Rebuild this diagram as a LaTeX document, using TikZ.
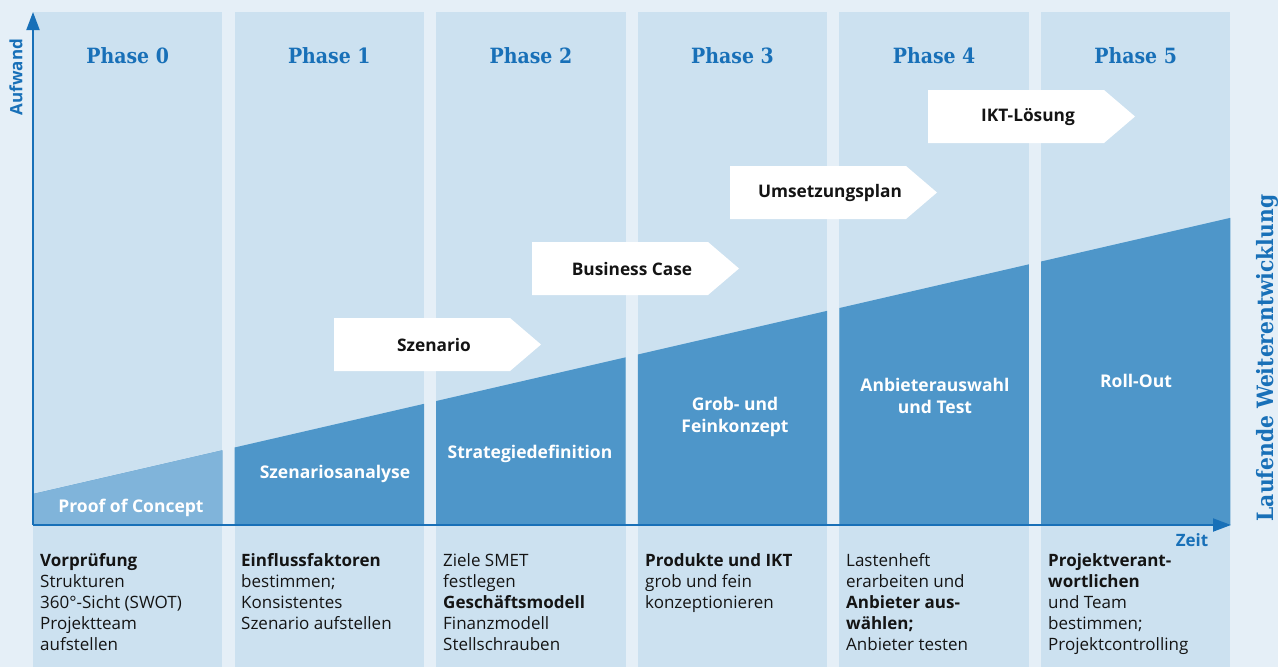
\documentclass[tikz,border=0pt]{standalone}
\usepackage{fontspec}
\setmainfont{Open Sans}
\newfontfamily\headfont{DejaVu Serif Condensed}
\usetikzlibrary{arrows.meta}

\definecolor{bgcol}{RGB}{229,239,247}
\definecolor{colfill}{RGB}{204,225,240}
\definecolor{darkfill}{RGB}{78,150,201}
\definecolor{lightfill}{RGB}{128,180,218}
\definecolor{axisblue}{RGB}{24,112,184}
\definecolor{ink}{RGB}{20,20,20}

\tikzset{
  phasehead/.style={font=\headfont\bfseries\fontsize{21}{24}\selectfont, text=axisblue, inner sep=0pt},
  desc/.style={font=\fontsize{17}{21}\selectfont, text=ink, align=left, anchor=north west, inner sep=0pt},
  stagelabel/.style={font=\bfseries\fontsize{17.5}{22}\selectfont, text=white, align=center, inner sep=0pt},
  steplabel/.style={font=\bfseries\fontsize{17.3}{22}\selectfont, text=ink, inner sep=0pt},
  axislabel/.style={font=\bfseries\fontsize{17}{20}\selectfont, text=axisblue, inner sep=0pt},
  axisline/.style={draw=axisblue, line width=2pt, -{Triangle[length=18pt,width=13pt]}},
}

\begin{document}
\begin{tikzpicture}[x=1pt, y=-1pt]
\useasboundingbox (0,0) rectangle (1278,667);
\fill[bgcol] (0,0) rectangle (1278,667);

% phase columns
\foreach \i in {0,...,5}{
  \fill[colfill] ({33+201.6*\i},12) rectangle ({33+201.6*\i+189.4},667);
}

% rising effort area, only inside the columns
\begin{scope}
  \clip (33,12) rectangle (222.4,667)
        (234.6,12) rectangle (424,667)
        (436.2,12) rectangle (625.6,667)
        (637.8,12) rectangle (827.2,667)
        (839.4,12) rectangle (1028.8,667)
        (1041,12) rectangle (1230.4,667);
  \fill[darkfill] (33,525) -- (33,494) -- (1231,217.7) -- (1231,525) -- cycle;
  \fill[lightfill] (33,525) -- (33,494) -- (222.4,450.3) -- (222.4,525) -- cycle;
\end{scope}

% axes
\coordinate (O) at (33,525);
\coordinate (ytip) at (33,12);
\coordinate (xtip) at (1231,525);
\draw[axisline] (O) -- (ytip);
\draw[axisline] (O) -- (xtip);
\node[axislabel, rotate=90] (aufwand) at (16,77) {Aufwand};
\node[axislabel] (zeit) at (1192,540) {Zeit};
\node[phasehead, rotate=90, font=\headfont\bfseries\fontsize{22.5}{26}\selectfont] (weiter) at (1267,358) {Laufende Weiterentwicklung};

% phase headings
\foreach \i in {0,...,5}{
  \node[phasehead] (ph\i) at ({127.7+201.6*\i},56) {Phase \i};
}

% stage labels in the effort area
\node[stagelabel] (poc) at (131,508) {Proof of Concept};
\node[stagelabel] (sza) at (335,474) {Szenariosanalyse};
\node[stagelabel] (sdf) at (530,454) {Strategiedefinition};
\node[stagelabel] (gfk) at (735,417) {Grob- und\\Feinkonzept};
\node[stagelabel] (aat) at (935,396) {Anbieterauswahl\\und Test};
\node[stagelabel] (rol) at (1136,381) {Roll-Out};

% result signposts
\foreach \i/\name/\txt in {0/szen/Szenario, 1/bcase/Business Case, 2/uplan/Umsetzungsplan, 3/ikt/IKT-L\"osung}{
  \pgfmathsetmacro{\L}{334+198*\i}
  \pgfmathsetmacro{\T}{318-76*\i}
  \fill[white] (\L,\T) -- ({\L+176},\T) -- ({\L+207},{\T+26.5}) -- ({\L+176},{\T+53}) -- (\L,{\T+53}) -- cycle;
  \node[steplabel] (\name) at ({\L+100},{\T+27}) {\txt};
}

% descriptions below the time axis
\node[desc] (d0) at (40,553) {\textbf{Vorprüfung}\\Strukturen\\360°-Sicht (SWOT)\\Projektteam\\aufstellen};
\node[desc] (d1) at (241,553) {\textbf{Einflussfaktoren}\\bestimmen;\\Konsistentes\\Szenario aufstellen};
\node[desc] (d2) at (443,553) {Ziele SMET\\festlegen\\\textbf{Geschäftsmodell}\\Finanzmodell\\Stellschrauben};
\node[desc] (d3) at (645,553) {\textbf{Produkte und IKT}\\grob und fein\\konzeptionieren};
\node[desc] (d4) at (846,553) {Lastenheft\\erarbeiten und\\\textbf{Anbieter aus-}\\\textbf{wählen;}\\Anbieter testen};
\node[desc] (d5) at (1048,553) {\textbf{Projektverant-}\\\textbf{wortlichen}\\und Team\\bestimmen;\\Projektcontrolling};
\end{tikzpicture}
\end{document}
